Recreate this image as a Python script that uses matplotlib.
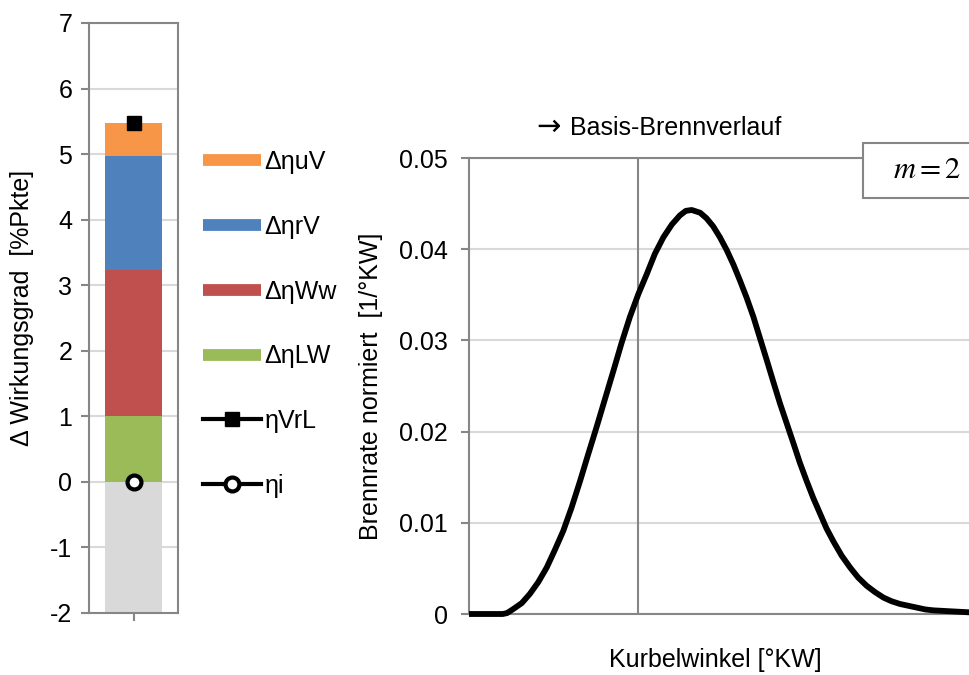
import matplotlib
matplotlib.use("Agg")
import matplotlib.pyplot as plt
from matplotlib.lines import Line2D
from matplotlib.patches import Rectangle

plt.rcParams['font.family'] = ['Liberation Sans', 'DejaVu Sans']
plt.rcParams['axes.unicode_minus'] = False
plt.rcParams['mathtext.fontset'] = 'stix'

# left chart: stacked efficiency contributions [%Pkte]
base_value = -2.0
parts = ["ΔηLW", "ΔηWw", "ΔηrV", "ΔηuV"]
part_values = [1.0, 2.23, 1.74, 0.51]
part_colors = ["#9BBB59", "#C0504D", "#4F81BD", "#F79646"]
eta_vrl = 5.48
eta_i = 0.0

# right chart: normalised burn rate (m = 2)
crank_angle = [-40, -32, -31.0, -29.5, -27.5, -25.6, -23.6, -21.6, -19.7, -17.7, -15.7, -13.7,
               -11.8, -9.8, -7.8, -5.8, -3.9, -1.9, 0.1, 2.1, 4.0, 6.0, 8.0, 9.9, 11.3,
               12.7, 14.7, 16.2, 17.8, 19.4, 21.0, 22.6, 24.1, 25.7, 27.3, 28.9, 30.5, 32.0,
               33.6, 35.2, 36.8, 38.3, 39.9, 41.5, 43.1, 44.6, 46.2, 48.2, 50.2, 52.1, 54.1,
               56.1, 58.1, 60.0, 62.0, 64.0, 66.0, 68.0, 69.9, 73.8, 77.8, 82]
burn_rate = [0, 0, 0.0001, 0.00055, 0.0012, 0.0022, 0.0035, 0.0051, 0.0070, 0.0091, 0.0117, 0.0146,
             0.0175, 0.0205, 0.0236, 0.0267, 0.0297, 0.0326, 0.0351, 0.0373, 0.0395, 0.0413, 0.0427, 0.0437, 0.0442,
             0.0443, 0.0440, 0.0434, 0.0425, 0.0413, 0.0399, 0.0383, 0.0366, 0.0347, 0.0326, 0.0302, 0.0278, 0.0255,
             0.0231, 0.0209, 0.0187, 0.0166, 0.0146, 0.0127, 0.0110, 0.0094, 0.0080, 0.0064, 0.0051, 0.0040, 0.0031,
             0.0024, 0.0018, 0.0014, 0.0011, 0.0009, 0.0007, 0.0005, 0.0004, 0.0003, 0.0002, 0.0001]

fs = 18
spine_c = "#868686"
grid_c = "#D9D9D9"

fig = plt.figure(figsize=(9.69, 6.75), dpi=100)

# ---- left chart
ax1 = fig.add_axes([89/969, 62/675, 89/969, 590/675])
ax1.set_xlim(-0.5, 0.5)
ax1.set_ylim(-2, 7)
ax1.set_yticks(range(-2, 8))
ax1.set_xticks([0])
ax1.set_xticklabels([""])
ax1.yaxis.grid(True, color=grid_c, lw=1.5)
ax1.set_axisbelow(True)
for s in ax1.spines.values():
    s.set_color(spine_c)
    s.set_linewidth(1.5)
ax1.tick_params(axis='both', colors=spine_c, width=1.5, length=6, labelsize=fs,
                labelcolor="black", pad=6)

ax1.bar(0, base_value, width=0.64, color="#D9D9D9", zorder=2)
bottom = 0
for name, val, col in zip(parts, part_values, part_colors):
    ax1.bar(0, val, bottom=bottom, width=0.64, color=col, zorder=2)
    bottom += val
ax1.plot([0], [eta_vrl], marker="s", color="black", ms=10, zorder=4)
ax1.plot([0], [eta_i], marker="o", mfc="white", mec="black", mew=3, ms=10, zorder=4)

fig.text(22/969, 1 - 308/675, "Δ Wirkungsgrad  [%Pkte]", rotation=90, fontsize=fs,
         ha="center", va="center")

handles = [Line2D([], [], color=c, lw=8.5, solid_capstyle="butt") for c in part_colors[::-1]]
handles.append(Line2D([], [], color="black", lw=3, marker="s", ms=10))
handles.append(Line2D([], [], color="black", lw=3, marker="o", mfc="white", mec="black", mew=3, ms=10))
labels = parts[::-1] + ["ηVrL", "ηi"]
fig.legend(handles, labels, loc="upper left", bbox_to_anchor=(203/969, 1 - 150/675),
           frameon=False, fontsize=fs, handlelength=2.3, handletextpad=0.15,
           labelspacing=1.63, borderpad=0, borderaxespad=0)

# ---- right chart
ax2 = fig.add_axes([469/969, 61/675, 507/969, 456/675])
ax2.set_xlim(-40, 80)
ax2.set_ylim(0, 0.05)
ax2.set_yticks([0, 0.01, 0.02, 0.03, 0.04, 0.05])
ax2.set_yticklabels(["0", "0.01", "0.02", "0.03", "0.04", "0.05"])
ax2.set_xticks([])
ax2.yaxis.grid(True, color=grid_c, lw=1.5)
ax2.set_axisbelow(True)
for s in ax2.spines.values():
    s.set_color(spine_c)
    s.set_linewidth(1.5)
ax2.tick_params(axis='y', colors=spine_c, width=1.5, length=6, labelsize=fs,
                labelcolor="black", pad=9)
ax2.axvline(0, color=spine_c, lw=1.5, zorder=1)
ax2.plot(crank_angle, burn_rate, color="black", lw=4.2, solid_capstyle="butt",
         solid_joinstyle="round", zorder=3, clip_on=False)
ax2.set_ylabel("Brennrate normiert  [1/°KW]", fontsize=fs, labelpad=12)

fig.text(548/969, 1 - 127/675, "→", fontsize=21, ha="center", va="center", family="DejaVu Sans")
fig.text(570/969, 1 - 128/675, "Basis-Brennverlauf", fontsize=fs, ha="left", va="center")
fig.text(715/969, 1 - 660/675, "Kurbelwinkel [°KW]", fontsize=fs, ha="center", va="center")

box = Rectangle((863/969, 1 - 198/675), 0.2, 55/675, transform=fig.transFigure,
                facecolor="white", edgecolor=spine_c, lw=1.5, zorder=5)
fig.patches.append(box)
fig.text(927/969, 1 - 170/675, "$m = 2$", fontsize=22, ha="center", va="center", zorder=6)

fig.savefig("out.png", dpi=100)
